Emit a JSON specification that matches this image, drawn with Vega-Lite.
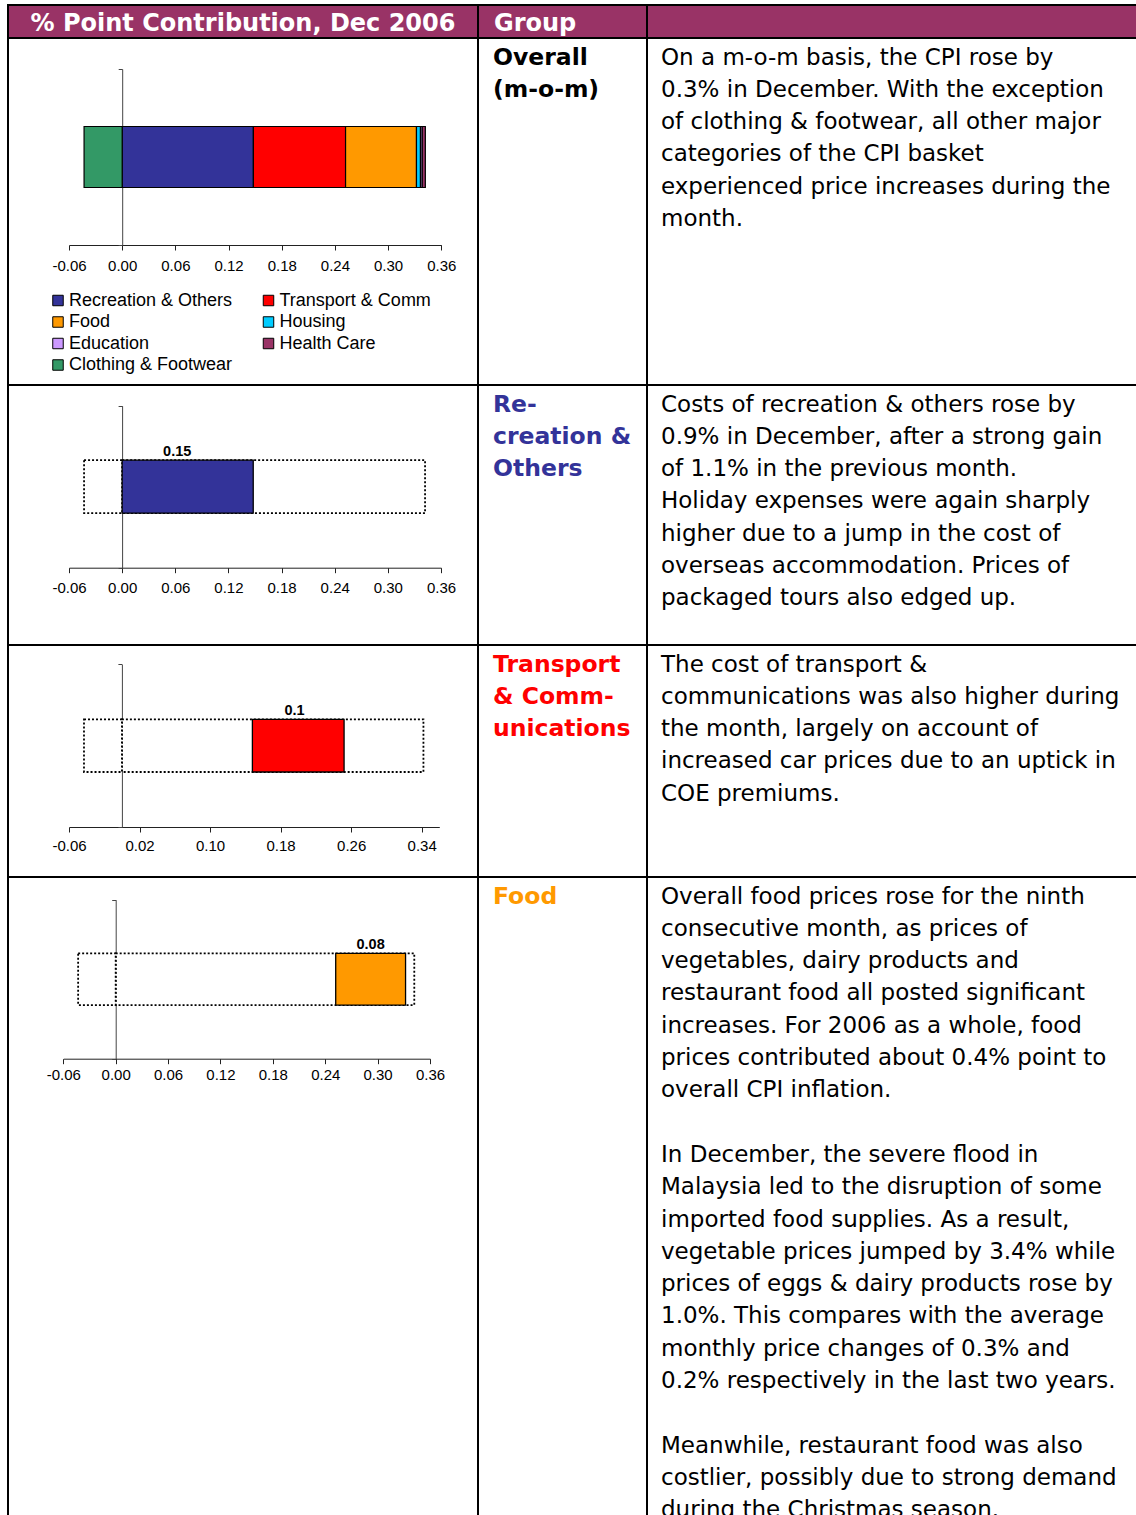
{
  "$schema": "https://vega.github.io/schema/vega-lite/v6.json",
  "padding": {"left": 7, "top": 4, "right": 0, "bottom": 0},
  "config": {
    "view": {"stroke": "black", "strokeWidth": 2},
    "concat": {"spacing": 0},
    "axis": {"labelFont": "Liberation Sans", "labelFontSize": 15, "labelColor": "black", "domainColor": "#222", "tickColor": "#222", "grid": false}
  },
  "datasets": {
    "contrib": [
      {"period": "Dec 2006", "group": "Recreation & Others", "value": 0.148, "rank": 1},
      {"period": "Dec 2006", "group": "Transport & Comm", "value": 0.104, "rank": 2},
      {"period": "Dec 2006", "group": "Food", "value": 0.08, "rank": 3},
      {"period": "Dec 2006", "group": "Housing", "value": 0.0045, "rank": 4},
      {"period": "Dec 2006", "group": "Education", "value": 0.002, "rank": 5},
      {"period": "Dec 2006", "group": "Health Care", "value": 0.0035, "rank": 6},
      {"period": "Dec 2006", "group": "Clothing & Footwear", "value": -0.043, "rank": 7}
    ],
    "texts": [
      {"cell": "h1", "line": 0, "text": "% Point Contribution, Dec 2006"},
      {"cell": "h2", "line": 0, "text": "Group"},
      {"cell": "g1", "line": 0, "text": "Overall"},
      {"cell": "g1", "line": 1, "text": "(m-o-m)"},
      {"cell": "g2", "line": 0, "text": "Re-"},
      {"cell": "g2", "line": 1, "text": "creation &"},
      {"cell": "g2", "line": 2, "text": "Others"},
      {"cell": "g3", "line": 0, "text": "Transport"},
      {"cell": "g3", "line": 1, "text": "& Comm-"},
      {"cell": "g3", "line": 2, "text": "unications"},
      {"cell": "g4", "line": 0, "text": "Food"},
      {"cell": "t1", "line": 0, "text": "On a m-o-m basis, the CPI rose by"},
      {"cell": "t1", "line": 1, "text": "0.3% in December.  With the exception"},
      {"cell": "t1", "line": 2, "text": "of clothing & footwear, all other major"},
      {"cell": "t1", "line": 3, "text": "categories of the CPI basket"},
      {"cell": "t1", "line": 4, "text": "experienced price increases during the"},
      {"cell": "t1", "line": 5, "text": "month."},
      {"cell": "t2", "line": 0, "text": "Costs of recreation & others rose by"},
      {"cell": "t2", "line": 1, "text": "0.9% in December, after a strong gain"},
      {"cell": "t2", "line": 2, "text": "of 1.1% in the previous month."},
      {"cell": "t2", "line": 3, "text": "Holiday expenses were again sharply"},
      {"cell": "t2", "line": 4, "text": "higher due to a jump in the cost of"},
      {"cell": "t2", "line": 5, "text": "overseas accommodation.  Prices of"},
      {"cell": "t2", "line": 6, "text": "packaged tours also edged up."},
      {"cell": "t3", "line": 0, "text": "The cost of transport &"},
      {"cell": "t3", "line": 1, "text": "communications was also higher during"},
      {"cell": "t3", "line": 2, "text": "the month, largely on account of"},
      {"cell": "t3", "line": 3, "text": "increased car prices due to an uptick in"},
      {"cell": "t3", "line": 4, "text": "COE premiums."},
      {"cell": "t4", "line": 0, "text": "Overall food prices rose for the ninth"},
      {"cell": "t4", "line": 1, "text": "consecutive month, as prices of"},
      {"cell": "t4", "line": 2, "text": "vegetables, dairy products and"},
      {"cell": "t4", "line": 3, "text": "restaurant food all posted significant"},
      {"cell": "t4", "line": 4, "text": "increases.  For 2006 as a whole, food"},
      {"cell": "t4", "line": 5, "text": "prices contributed about 0.4% point to"},
      {"cell": "t4", "line": 6, "text": "overall CPI inflation."},
      {"cell": "t4", "line": 8, "text": "In December, the severe flood in"},
      {"cell": "t4", "line": 9, "text": "Malaysia led to the disruption of some"},
      {"cell": "t4", "line": 10, "text": "imported food supplies. As a result,"},
      {"cell": "t4", "line": 11, "text": "vegetable prices jumped by 3.4% while"},
      {"cell": "t4", "line": 12, "text": "prices of eggs & dairy products rose by"},
      {"cell": "t4", "line": 13, "text": "1.0%.  This compares with the average"},
      {"cell": "t4", "line": 14, "text": "monthly price changes of 0.3% and"},
      {"cell": "t4", "line": 15, "text": "0.2% respectively in the last two years."},
      {"cell": "t4", "line": 17, "text": "Meanwhile, restaurant food was also"},
      {"cell": "t4", "line": 18, "text": "costlier, possibly due to strong demand"},
      {"cell": "t4", "line": 19, "text": "during the Christmas season."}
    ]
  },
  "columns": 3,
  "spacing": 0,
  "bounds": "flush",
  "align": "each",
  "resolve": {"scale": {"color": "independent"}, "legend": {"color": "independent"}},
  "concat": [
    {
      "width": 470, "height": 33, "view": {"fill": "#993366"},
      "data": {"name": "texts"},
      "transform": [{"filter": "datum.cell === 'h1'"}],
      "mark": {"type": "text", "align": "center", "baseline": "alphabetic", "font": "DejaVu Sans", "fontWeight": "bold", "fontSize": 24, "color": "white"},
      "encoding": {
        "y": {"field": "line", "type": "quantitative", "scale": {"domain": [0, 1], "range": [26, 58]}, "axis": null},
        "text": {"field": "text"}
      }
    },
    {
      "width": 169, "height": 33, "view": {"fill": "#993366"},
      "data": {"name": "texts"},
      "transform": [{"filter": "datum.cell === 'h2'"}],
      "mark": {"type": "text", "align": "left", "baseline": "alphabetic", "font": "DejaVu Sans", "fontWeight": "bold", "fontSize": 24, "color": "white"},
      "encoding": {
        "x": {"datum": 0, "type": "quantitative", "scale": {"domain": [0, 1], "range": [16, 150]}, "axis": null},
        "y": {"field": "line", "type": "quantitative", "scale": {"domain": [0, 1], "range": [26, 58]}, "axis": null},
        "text": {"field": "text"}
      }
    },
    {
      "width": 495, "height": 33, "view": {"fill": "#993366"},
      "data": {"name": "texts"},
      "transform": [{"filter": "datum.cell === 'h3'"}],
      "mark": {"type": "text", "align": "left", "color": "white"},
      "encoding": {
        "x": {"datum": 0, "type": "quantitative", "scale": {"domain": [0, 1], "range": [16, 150]}, "axis": null},
        "y": {"field": "line", "type": "quantitative", "scale": {"domain": [0, 1], "range": [26, 58]}, "axis": null},
        "text": {"field": "text"}
      }
    },
    {
      "width": 470, "height": 347,
      "data": {"name": "contrib"},
      "mark": {"type": "bar", "height": {"band": 0.3466}, "stroke": "black", "strokeWidth": 1.2},
      "encoding": {
        "y": {"field": "period", "type": "nominal", "scale": {"range": [31, 207], "paddingInner": 0, "paddingOuter": 0}, "axis": {"orient": "left", "offset": -114.2, "labels": false, "title": null, "tickBand": "extent", "tickSize": 4, "domainColor": "#444", "tickColor": "#444"}},
        "x": {"field": "value", "type": "quantitative", "stack": "zero", "scale": {"domain": [-0.06, 0.36], "range": [61, 433.3], "nice": false, "zero": false}, "axis": {"orient": "bottom", "offset": -140, "values": [-0.06, 0, 0.06, 0.12, 0.18, 0.24, 0.3, 0.36], "format": ".2f", "labelExpr": "replace(datum.label, '−', '-')", "title": null, "tickSize": 5, "labelPadding": 8, "labelFlush": false, "labelOverlap": false}},
        "order": {"field": "rank", "type": "quantitative"},
        "color": {
          "field": "group", "type": "nominal",
          "scale": {
            "domain": ["Recreation & Others", "Transport & Comm", "Food", "Housing", "Education", "Health Care", "Clothing & Footwear"],
            "range": ["#333399", "#FF0000", "#FF9900", "#00CCFF", "#CC99FF", "#993366", "#339966"]
          },
          "legend": {"orient": "none", "direction": "horizontal", "legendX": 41, "legendY": 253.5, "columns": 2, "title": null, "symbolType": "square", "symbolSize": 110, "symbolStrokeColor": "black", "symbolStrokeWidth": 1, "labelFont": "Liberation Sans", "labelFontSize": 18, "labelColor": "black", "labelLimit": 300, "columnPadding": 26.5, "rowPadding": 3.5, "labelOffset": 2, "padding": 0}
        }
      }
    },
    {
      "width": 169, "height": 347,
      "data": {"name": "texts"},
      "transform": [{"filter": "datum.cell === 'g1'"}],
      "mark": {"type": "text", "align": "left", "baseline": "alphabetic", "font": "DejaVu Sans", "fontWeight": "bold", "fontSize": 23.5, "color": "black"},
      "encoding": {
        "x": {"datum": 0, "type": "quantitative", "scale": {"domain": [0, 1], "range": [15, 150]}, "axis": null},
        "y": {"field": "line", "type": "quantitative", "scale": {"domain": [0, 10], "range": [26.5, 349.5]}, "axis": null},
        "text": {"field": "text"}
      }
    },
    {
      "width": 495, "height": 347,
      "data": {"name": "texts"},
      "transform": [{"filter": "datum.cell === 't1'"}],
      "mark": {"type": "text", "align": "left", "baseline": "alphabetic", "font": "DejaVu Sans", "fontSize": 23, "color": "black", "clip": true},
      "encoding": {
        "x": {"datum": 0, "type": "quantitative", "scale": {"domain": [0, 1], "range": [14, 400]}, "axis": null},
        "y": {"field": "line", "type": "quantitative", "scale": {"domain": [0, 10], "range": [26.5, 349.5]}, "axis": null},
        "text": {"field": "text"}
      }
    },
    {
      "width": 470, "height": 260,
      "data": {"name": "contrib"},
      "layer": [
        {
          "transform": [
            {"stack": "value", "groupby": ["period"], "sort": [{"field": "rank", "order": "ascending"}], "as": ["v0", "v1"]},
            {"aggregate": [{"op": "min", "field": "v0", "as": "lo"}, {"op": "max", "field": "v1", "as": "hi"}], "groupby": ["period"]}
          ],
          "mark": {"type": "bar", "height": {"band": 0.327}, "fill": "white", "stroke": "black", "strokeWidth": 1.8, "strokeDash": [2, 2]},
          "encoding": {
            "y": {"field": "period", "type": "nominal", "scale": {"range": [20.7, 182.7], "paddingInner": 0, "paddingOuter": 0}, "axis": {"orient": "left", "offset": -114.1, "labels": false, "title": null, "tickBand": "extent", "tickSize": 4, "domainColor": "#444", "tickColor": "#444"}},
            "x": {"field": "lo", "type": "quantitative", "scale": {"domain": [-0.06, 0.36], "range": [61, 433], "nice": false, "zero": false}, "axis": {"orient": "bottom", "offset": -77.3, "values": [-0.06, 0, 0.06, 0.12, 0.18, 0.24, 0.3, 0.36], "format": ".2f", "labelExpr": "replace(datum.label, '−', '-')", "title": null, "tickSize": 5, "labelPadding": 8, "labelFlush": false, "labelOverlap": false}},
            "x2": {"field": "hi"}
          }
        },
        {
          "transform": [{"filter": "datum.value < 0"}],
          "mark": {"type": "bar", "height": {"band": 0.327}, "fill": "white", "stroke": "black", "strokeWidth": 1.8, "strokeDash": [2, 2]},
          "encoding": {
            "y": {"field": "period", "type": "nominal"},
            "x": {"field": "value", "type": "quantitative", "stack": "zero", "title": null}
          }
        },
        {
          "mark": {"type": "bar", "height": {"band": 0.327}, "fill": "#333399", "stroke": "black", "strokeWidth": 1.3},
          "encoding": {
            "y": {"field": "period", "type": "nominal"},
            "x": {"field": "value", "type": "quantitative", "stack": "zero", "title": null},
            "order": {"field": "rank", "type": "quantitative"},
            "opacity": {"condition": {"test": "datum.group === 'Recreation & Others'", "value": 1}, "value": 0}
          }
        },
        {
          "mark": {"type": "text", "font": "Liberation Sans", "fontWeight": "bold", "fontSize": 14.5, "baseline": "alphabetic", "align": "center", "dy": -4, "color": "black"},
          "encoding": {
            "y": {"field": "period", "type": "nominal", "bandPosition": 0.3365},
            "x": {"field": "value", "type": "quantitative", "stack": "zero", "bandPosition": 0.42, "title": null},
            "order": {"field": "rank", "type": "quantitative"},
            "text": {"condition": {"test": "datum.group === 'Recreation & Others'", "field": "value", "type": "quantitative", "format": ".2"}, "value": ""}
          }
        }
      ]
    },
    {
      "width": 169, "height": 260,
      "data": {"name": "texts"},
      "transform": [{"filter": "datum.cell === 'g2'"}],
      "mark": {"type": "text", "align": "left", "baseline": "alphabetic", "font": "DejaVu Sans", "fontWeight": "bold", "fontSize": 23.5, "color": "#333399"},
      "encoding": {
        "x": {"datum": 0, "type": "quantitative", "scale": {"domain": [0, 1], "range": [15, 150]}, "axis": null},
        "y": {"field": "line", "type": "quantitative", "scale": {"domain": [0, 10], "range": [26.5, 349.5]}, "axis": null},
        "text": {"field": "text"}
      }
    },
    {
      "width": 495, "height": 260,
      "data": {"name": "texts"},
      "transform": [{"filter": "datum.cell === 't2'"}],
      "mark": {"type": "text", "align": "left", "baseline": "alphabetic", "font": "DejaVu Sans", "fontSize": 23, "color": "black", "clip": true},
      "encoding": {
        "x": {"datum": 0, "type": "quantitative", "scale": {"domain": [0, 1], "range": [14, 400]}, "axis": null},
        "y": {"field": "line", "type": "quantitative", "scale": {"domain": [0, 10], "range": [26.5, 349.5]}, "axis": null},
        "text": {"field": "text"}
      }
    },
    {
      "width": 470, "height": 232,
      "data": {"name": "contrib"},
      "layer": [
        {
          "transform": [
            {"stack": "value", "groupby": ["period"], "sort": [{"field": "rank", "order": "ascending"}], "as": ["v0", "v1"]},
            {"aggregate": [{"op": "min", "field": "v0", "as": "lo"}, {"op": "max", "field": "v1", "as": "hi"}], "groupby": ["period"]}
          ],
          "mark": {"type": "bar", "height": {"band": 0.324}, "fill": "white", "stroke": "black", "strokeWidth": 1.8, "strokeDash": [2, 2]},
          "encoding": {
            "y": {"field": "period", "type": "nominal", "scale": {"range": [19.3, 182], "paddingInner": 0, "paddingOuter": 0}, "axis": {"orient": "left", "offset": -113.9, "labels": false, "title": null, "tickBand": "extent", "tickSize": 4, "domainColor": "#444", "tickColor": "#444"}},
            "x": {"field": "lo", "type": "quantitative", "scale": {"domain": [-0.06, 0.36], "range": [61, 431.3], "nice": false, "zero": false}, "axis": {"orient": "bottom", "offset": -50, "values": [-0.06, 0.02, 0.1, 0.18, 0.26, 0.34], "format": ".2f", "labelExpr": "replace(datum.label, '−', '-')", "title": null, "tickSize": 5, "labelPadding": 6.5, "labelFlush": false, "labelOverlap": false}},
            "x2": {"field": "hi"}
          }
        },
        {
          "transform": [{"filter": "datum.value < 0"}],
          "mark": {"type": "bar", "height": {"band": 0.324}, "fill": "white", "stroke": "black", "strokeWidth": 1.8, "strokeDash": [2, 2]},
          "encoding": {
            "y": {"field": "period", "type": "nominal"},
            "x": {"field": "value", "type": "quantitative", "stack": "zero", "title": null}
          }
        },
        {
          "mark": {"type": "bar", "height": {"band": 0.324}, "fill": "#FF0000", "stroke": "black", "strokeWidth": 1.3},
          "encoding": {
            "y": {"field": "period", "type": "nominal"},
            "x": {"field": "value", "type": "quantitative", "stack": "zero", "title": null},
            "order": {"field": "rank", "type": "quantitative"},
            "opacity": {"condition": {"test": "datum.group === 'Transport & Comm'", "value": 1}, "value": 0}
          }
        },
        {
          "mark": {"type": "text", "font": "Liberation Sans", "fontWeight": "bold", "fontSize": 14.5, "baseline": "alphabetic", "align": "center", "dy": -4, "color": "black"},
          "encoding": {
            "y": {"field": "period", "type": "nominal", "bandPosition": 0.338},
            "x": {"field": "value", "type": "quantitative", "stack": "zero", "bandPosition": 0.46, "title": null},
            "order": {"field": "rank", "type": "quantitative"},
            "text": {"condition": {"test": "datum.group === 'Transport & Comm'", "field": "value", "type": "quantitative", "format": ".2"}, "value": ""}
          }
        }
      ]
    },
    {
      "width": 169, "height": 232,
      "data": {"name": "texts"},
      "transform": [{"filter": "datum.cell === 'g3'"}],
      "mark": {"type": "text", "align": "left", "baseline": "alphabetic", "font": "DejaVu Sans", "fontWeight": "bold", "fontSize": 23.5, "color": "#FF0000"},
      "encoding": {
        "x": {"datum": 0, "type": "quantitative", "scale": {"domain": [0, 1], "range": [15, 150]}, "axis": null},
        "y": {"field": "line", "type": "quantitative", "scale": {"domain": [0, 10], "range": [26.5, 349.5]}, "axis": null},
        "text": {"field": "text"}
      }
    },
    {
      "width": 495, "height": 232,
      "data": {"name": "texts"},
      "transform": [{"filter": "datum.cell === 't3'"}],
      "mark": {"type": "text", "align": "left", "baseline": "alphabetic", "font": "DejaVu Sans", "fontSize": 23, "color": "black", "clip": true},
      "encoding": {
        "x": {"datum": 0, "type": "quantitative", "scale": {"domain": [0, 1], "range": [14, 400]}, "axis": null},
        "y": {"field": "line", "type": "quantitative", "scale": {"domain": [0, 10], "range": [26.5, 349.5]}, "axis": null},
        "text": {"field": "text"}
      }
    },
    {
      "width": 470, "height": 650,
      "data": {"name": "contrib"},
      "layer": [
        {
          "transform": [
            {"stack": "value", "groupby": ["period"], "sort": [{"field": "rank", "order": "ascending"}], "as": ["v0", "v1"]},
            {"aggregate": [{"op": "min", "field": "v0", "as": "lo"}, {"op": "max", "field": "v1", "as": "hi"}], "groupby": ["period"]}
          ],
          "mark": {"type": "bar", "height": {"band": 0.325}, "fill": "white", "stroke": "black", "strokeWidth": 1.8, "strokeDash": [2, 2]},
          "encoding": {
            "y": {"field": "period", "type": "nominal", "scale": {"range": [22.7, 181.7], "paddingInner": 0, "paddingOuter": 0}, "axis": {"orient": "left", "offset": -107.7, "labels": false, "title": null, "tickBand": "extent", "tickSize": 4, "domainColor": "#444", "tickColor": "#444"}},
            "x": {"field": "lo", "type": "quantitative", "scale": {"domain": [-0.06, 0.36], "range": [55.3, 422], "nice": false, "zero": false}, "axis": {"orient": "bottom", "offset": -468.3, "values": [-0.06, 0, 0.06, 0.12, 0.18, 0.24, 0.3, 0.36], "format": ".2f", "labelExpr": "replace(datum.label, '−', '-')", "title": null, "tickSize": 5, "labelPadding": 4, "labelFlush": false, "labelOverlap": false}},
            "x2": {"field": "hi"}
          }
        },
        {
          "transform": [{"filter": "datum.value < 0"}],
          "mark": {"type": "bar", "height": {"band": 0.325}, "fill": "white", "stroke": "black", "strokeWidth": 1.8, "strokeDash": [2, 2]},
          "encoding": {
            "y": {"field": "period", "type": "nominal"},
            "x": {"field": "value", "type": "quantitative", "stack": "zero", "title": null}
          }
        },
        {
          "mark": {"type": "bar", "height": {"band": 0.325}, "fill": "#FF9900", "stroke": "black", "strokeWidth": 1.3},
          "encoding": {
            "y": {"field": "period", "type": "nominal"},
            "x": {"field": "value", "type": "quantitative", "stack": "zero", "title": null},
            "order": {"field": "rank", "type": "quantitative"},
            "opacity": {"condition": {"test": "datum.group === 'Food'", "value": 1}, "value": 0}
          }
        },
        {
          "mark": {"type": "text", "font": "Liberation Sans", "fontWeight": "bold", "fontSize": 14.5, "baseline": "alphabetic", "align": "center", "dy": -4, "color": "black"},
          "encoding": {
            "y": {"field": "period", "type": "nominal", "bandPosition": 0.3375},
            "x": {"field": "value", "type": "quantitative", "stack": "zero", "bandPosition": 0.5, "title": null},
            "order": {"field": "rank", "type": "quantitative"},
            "text": {"condition": {"test": "datum.group === 'Food'", "field": "value", "type": "quantitative", "format": ".2"}, "value": ""}
          }
        }
      ]
    },
    {
      "width": 169, "height": 650,
      "data": {"name": "texts"},
      "transform": [{"filter": "datum.cell === 'g4'"}],
      "mark": {"type": "text", "align": "left", "baseline": "alphabetic", "font": "DejaVu Sans", "fontWeight": "bold", "fontSize": 23.5, "color": "#FF9900"},
      "encoding": {
        "x": {"datum": 0, "type": "quantitative", "scale": {"domain": [0, 1], "range": [15, 150]}, "axis": null},
        "y": {"field": "line", "type": "quantitative", "scale": {"domain": [0, 10], "range": [26.5, 349.5]}, "axis": null},
        "text": {"field": "text"}
      }
    },
    {
      "width": 495, "height": 650,
      "data": {"name": "texts"},
      "transform": [{"filter": "datum.cell === 't4'"}],
      "mark": {"type": "text", "align": "left", "baseline": "alphabetic", "font": "DejaVu Sans", "fontSize": 23, "color": "black", "clip": true},
      "encoding": {
        "x": {"datum": 0, "type": "quantitative", "scale": {"domain": [0, 1], "range": [14, 400]}, "axis": null},
        "y": {"field": "line", "type": "quantitative", "scale": {"domain": [0, 10], "range": [26.5, 349.5]}, "axis": null},
        "text": {"field": "text"}
      }
    }
  ]
}
